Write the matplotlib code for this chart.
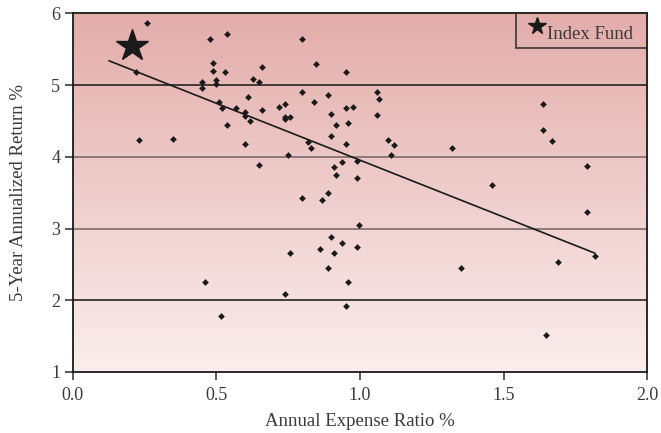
import numpy as np
import matplotlib
matplotlib.use("Agg")
import matplotlib.pyplot as plt
from matplotlib.patches import Rectangle
from matplotlib.colors import LinearSegmentedColormap

# Fund data: annual expense ratio (%) and 5-year annualized return (%)
expense = [
    0.259, 0.220, 0.231, 0.350, 0.479, 0.538, 0.490, 0.490, 0.530, 0.498,
    0.498, 0.451, 0.451, 0.628, 0.647, 0.510, 0.519, 0.569, 0.609, 0.600,
    0.600, 0.619, 0.538, 0.600, 0.647, 0.659, 0.659, 0.800, 0.847, 0.950,
    0.800, 0.840, 0.890, 0.719, 0.738, 0.738, 0.738, 0.758, 0.898, 0.950,
    0.977, 0.918, 0.958, 0.898, 0.950, 1.060, 1.068, 1.060, 1.099, 1.119,
    1.107, 0.820, 0.828, 0.749, 0.939, 0.989, 0.910, 0.918, 0.989, 0.890,
    0.800, 0.868, 1.319, 1.638, 1.638, 1.670, 1.790, 1.461, 0.997, 0.900,
    0.939, 0.860, 0.910, 0.989, 0.758, 0.890, 0.959, 0.459, 0.738, 0.950,
    0.518, 1.790, 1.817, 1.689, 1.351, 1.649,
]
returns = [
    5.87, 5.19, 4.24, 4.25, 5.64, 5.71, 5.31, 5.20, 5.18, 5.07,
    5.02, 5.04, 4.96, 5.08, 5.04, 4.76, 4.68, 4.68, 4.84, 4.63,
    4.57, 4.50, 4.45, 4.18, 3.89, 5.25, 4.65, 5.65, 5.29, 5.18,
    4.91, 4.77, 4.86, 4.69, 4.74, 4.56, 4.53, 4.55, 4.60, 4.68,
    4.70, 4.44, 4.47, 4.29, 4.18, 4.91, 4.81, 4.58, 4.23, 4.16,
    4.03, 4.20, 4.12, 4.02, 3.93, 3.94, 3.86, 3.75, 3.70, 3.49,
    3.42, 3.40, 4.12, 4.74, 4.38, 4.22, 3.87, 3.61, 3.05, 2.88,
    2.80, 2.71, 2.66, 2.74, 2.66, 2.45, 2.25, 2.26, 2.09, 1.92,
    1.78, 3.23, 2.62, 2.53, 2.45, 1.52,
]

# Index fund reference point
index_expense = [0.207]
index_return = [5.54]

# Trend line (linear fit) parameters and span
trend_slope = -1.586
trend_intercept = 5.54
trend_span = [0.127, 1.817]

x_ticks = [0.0, 0.5, 1.0, 1.5, 2.0]
y_ticks = [1, 2, 3, 4, 5, 6]

plt.rcParams["font.family"] = ["Liberation Serif", "DejaVu Serif"]
text_color = "#3a3a3a"
ink = "#1a1a1a"

fig = plt.figure(figsize=(6.61, 4.33), dpi=100)
ax = fig.add_axes([0.110, 0.141, 0.869, 0.828])
ax.set_xlim(0, 2)
ax.set_ylim(1, 6)

# Vertical gradient background
cmap = LinearSegmentedColormap.from_list("bg", ["#faeeed", "#e3adaa"])
grad = np.linspace(0, 1, 256).reshape(-1, 1)
ax.imshow(grad, cmap=cmap, aspect="auto", extent=[0, 2, 1, 6],
          origin="lower", zorder=0, interpolation="bicubic")

# Horizontal gridlines
grid_colors = {2: "#262222", 3: "#7a6c6c", 4: "#7a6c6c", 5: "#262222"}
for yv in y_ticks[1:-1]:
    ax.axhline(yv, color=grid_colors[yv], lw=1.2, zorder=1)

ax.scatter(expense, returns, marker="D", s=9, color=ink,
           edgecolors=ink, linewidths=0.4, zorder=3)

tx = np.array(trend_span)
ax.plot(tx, trend_intercept + trend_slope * tx, color=ink, lw=1.2, zorder=2)

ax.plot(index_expense, index_return, marker="*", markersize=24,
        color=ink, linestyle="none", zorder=4)

ax.set_xticks(x_ticks)
ax.set_xticklabels([f"{v:.1f}" for v in x_ticks])
ax.set_yticks(y_ticks)
ax.set_yticklabels([str(v) for v in y_ticks])
ax.tick_params(direction="out", length=6, width=1.1, color="#2a2a2a",
               labelsize=13, labelcolor=text_color, pad=3)
ax.tick_params(axis="x", pad=5)

for s in ax.spines.values():
    s.set_color(ink)
    s.set_linewidth(1.3)

ax.set_xlabel("Annual Expense Ratio %", fontsize=13.5, color=text_color, labelpad=6)
ax.set_ylabel("5-Year Annualized Return %", fontsize=13.5, color=text_color, labelpad=17)

# Legend box in the top-right corner
ax.add_patch(Rectangle((0.772, 0.904), 0.228, 0.096, transform=ax.transAxes,
                       facecolor="none", edgecolor="#2a2a2a", lw=1.1, zorder=5,
                       clip_on=False))
ax.plot([0.8085], [0.966], transform=ax.transAxes, marker="*", markersize=13,
        color=ink, linestyle="none", zorder=6, clip_on=False)
ax.text(0.826, 0.929, "Index Fund", transform=ax.transAxes, fontsize=13.5,
        color=text_color, ha="left", va="baseline", zorder=6)

fig.savefig("out.png", dpi=100)
